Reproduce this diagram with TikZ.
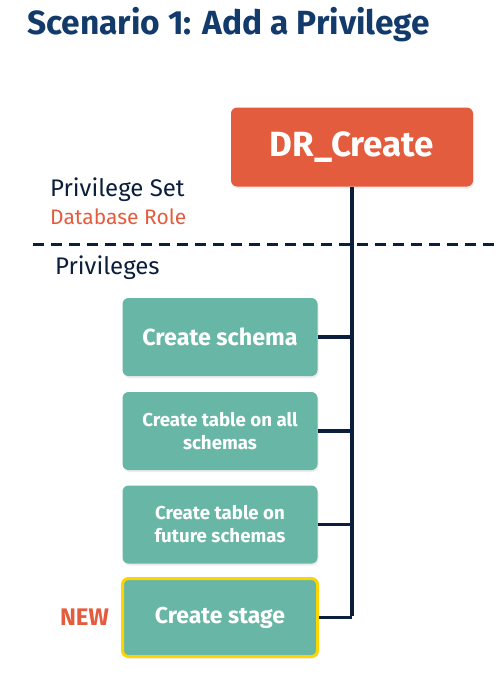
\documentclass[tikz,border=0pt]{standalone}
\usepackage{fontspec}
\setmainfont{Fira Sans}
\usetikzlibrary{positioning,shadows}
\definecolor{navy}{HTML}{0B1E3B}
\definecolor{titleblue}{HTML}{123B6C}
\definecolor{drorange}{HTML}{E45C3E}
\definecolor{privteal}{HTML}{68B6A6}
\definecolor{newgold}{HTML}{FFD500}
\tikzset{
  rolebox/.style={fill=drorange, rounded corners=6pt, minimum width=242pt, minimum height=79pt,
    text=white, font=\fontsize{35}{38}\selectfont\bfseries, drop shadow={opacity=.15, shadow xshift=1pt, shadow yshift=-2pt}},
  privbox/.style={fill=privteal, rounded corners=6pt, minimum width=195pt, minimum height=78pt,
    text=white, align=center, font=\fontsize{18.7}{23}\selectfont\bfseries, drop shadow={opacity=.15, shadow xshift=1pt, shadow yshift=-2pt}},
  conn/.style={navy, line width=3.5pt},
}
\begin{document}
\begin{tikzpicture}[x=1pt, y=-1pt]
        \useasboundingbox (0,0) rectangle (500,681);
        \node[anchor=base west, text=titleblue, font=\fontsize{33.5}{36}\selectfont\bfseries, inner sep=0] (title) at (27,34) {Scenario 1: Add a Privilege};
        \node[rolebox] (drc) at (352,147) {DR\_Create};
        \node[anchor=base west, text=navy, font=\fontsize{24}{26}\selectfont, inner sep=0] (pset) at (50,196) {Privilege Set};
        \node[anchor=base west, text=drorange, font=\fontsize{21}{24}\selectfont, inner sep=0] (drole) at (50,224) {Database Role};
        \node[anchor=base west, text=navy, font=\fontsize{24}{26}\selectfont, inner sep=0] (privs) at (55,274) {Privileges};
        \draw[navy, line width=3pt, dash pattern=on 11pt off 7pt] (33,244) -- (500,244);
        % privilege boxes
        \foreach \nm/\y/\txt in {schema/337/{\fontsize{23.3}{26}\selectfont Create schema},
                                 allsch/431/{Create table on all\\schemas},
                                 futsch/524.5/{Create table on\\future schemas}}
        \node[privbox] (\nm) at (220,\y) {\txt};
        \node[privbox, draw=newgold, line width=3pt, font=\fontsize{23}{26}\selectfont\bfseries] (stage) at (220,617.5) {Create stage};
        \node[text=drorange, font=\fontsize{24}{26}\selectfont\bfseries] (new) at (84.5,617.5) {NEW};
        % tree
        \coordinate (bottom) at (drc.south |- stage.east);
        \draw[conn] (drc.south) -- ([yshift=1.75pt]bottom);
        \foreach \nm in {schema,allsch,futsch,stage}
        \draw[conn] (\nm.east) -- (\nm.east -| drc.south);
\end{tikzpicture}
\end{document}
